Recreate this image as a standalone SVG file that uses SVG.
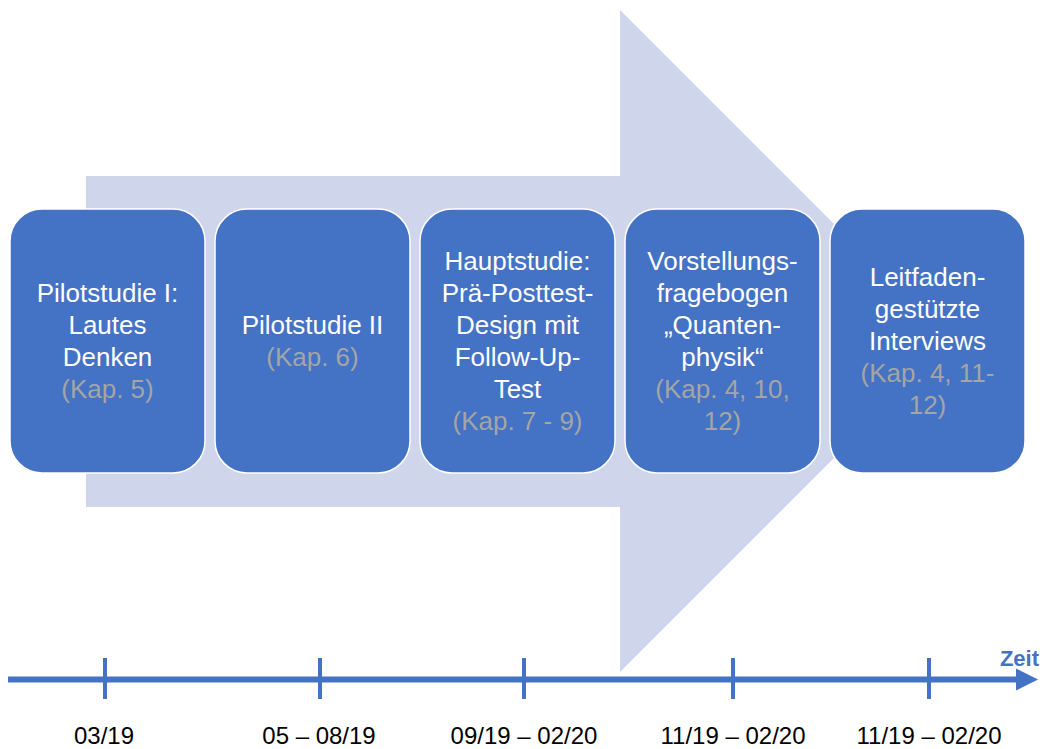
<svg xmlns="http://www.w3.org/2000/svg" width="1044" height="749" viewBox="0 0 1044 749">
<style>
.box{fill:#4472C4;stroke:#FFFFFF;stroke-width:1.5}
.t{font-family:"Liberation Sans",Arial,sans-serif;font-size:26px;fill:#FFFFFF;text-anchor:middle}
.g{fill:#A5A5A5}
.d{font-family:"Liberation Sans",Arial,sans-serif;font-size:24px;fill:#000000;text-anchor:middle}
.ax{stroke:#4472C4;fill:none}
</style>
<rect width="1044" height="749" fill="#FFFFFF"/>
<g id="bigarrow">
<polygon points="86,176 620,176 620,10 951,341 620,672 620,507 86,507" fill="#CFD5EA"/>
</g>
<g id="node1">
<rect class="box" x="10" y="209" width="195" height="264" rx="32"/>
<text class="t" x="107.5" y="302">Pilotstudie I:</text>
<text class="t" x="107.5" y="334">Lautes</text>
<text class="t" x="107.5" y="366">Denken</text>
<text class="t g" x="107.5" y="398">(Kap. 5)</text>
</g>
<g id="node2">
<rect class="box" x="215" y="209" width="195" height="264" rx="32"/>
<text class="t" x="312.5" y="334">Pilotstudie II</text>
<text class="t g" x="312.5" y="366">(Kap. 6)</text>
</g>
<g id="node3">
<rect class="box" x="420" y="209" width="195" height="264" rx="32"/>
<text class="t" x="517.5" y="270">Hauptstudie:</text>
<text class="t" x="517.5" y="302">Prä-Posttest-</text>
<text class="t" x="517.5" y="334">Design mit</text>
<text class="t" x="517.5" y="366">Follow-Up-</text>
<text class="t" x="517.5" y="398">Test</text>
<text class="t g" x="517.5" y="430">(Kap. 7 - 9)</text>
</g>
<g id="node4">
<rect class="box" x="625" y="209" width="195" height="264" rx="32"/>
<text class="t" x="722.5" y="270">Vorstellungs-</text>
<text class="t" x="722.5" y="302">fragebogen</text>
<text class="t" x="722.5" y="334">„Quanten-</text>
<text class="t" x="722.5" y="366">physik“</text>
<text class="t g" x="722.5" y="398">(Kap. 4, 10,</text>
<text class="t g" x="722.5" y="430">12)</text>
</g>
<g id="node5">
<rect class="box" x="830" y="209" width="195" height="264" rx="32"/>
<text class="t" x="927.5" y="286">Leitfaden-</text>
<text class="t" x="927.5" y="318">gestützte</text>
<text class="t" x="927.5" y="350">Interviews</text>
<text class="t g" x="927.5" y="382">(Kap. 4, 11-</text>
<text class="t g" x="927.5" y="414">12)</text>
</g>
<g id="connectors">
<line class="ax" x1="8" y1="679.5" x2="1020" y2="679.5" stroke-width="6"/>
<polygon points="1016,668.5 1038,679.5 1016,690.5" fill="#4472C4"/>
<line class="ax" x1="105" y1="658" x2="105" y2="699" stroke-width="4"/>
<line class="ax" x1="320" y1="658" x2="320" y2="699" stroke-width="4"/>
<line class="ax" x1="524" y1="658" x2="524" y2="699" stroke-width="4"/>
<line class="ax" x1="733" y1="658" x2="733" y2="699" stroke-width="4"/>
<line class="ax" x1="929" y1="658" x2="929" y2="699" stroke-width="4"/>
</g>
<g id="labels">
<text x="1039" y="666" font-family="Liberation Sans,Arial,sans-serif" font-size="22" font-weight="bold" fill="#4472C4" text-anchor="end">Zeit</text>
<text class="d" x="104" y="744">03/19</text>
<text class="d" x="319" y="744">05 – 08/19</text>
<text class="d" x="524" y="744">09/19 – 02/20</text>
<text class="d" x="733" y="744">11/19 – 02/20</text>
<text class="d" x="929" y="744">11/19 – 02/20</text>
</g>
</svg>
